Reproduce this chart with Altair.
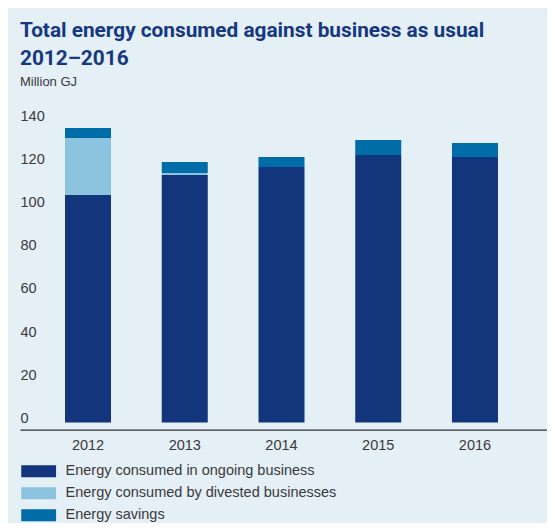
import altair as alt
import pandas as pd

years = ["2012", "2013", "2014", "2015", "2016"]
series = [
    "Energy consumed in ongoing business",
    "Energy consumed by divested businesses",
    "Energy savings",
]
ongoing = [105.3, 114.5, 118.2, 123.8, 122.9]
divested = [26.4, 1.0, 0.0, 0.0, 0.0]
savings = [4.6, 5.1, 4.7, 6.9, 6.4]
colors = ["#12357b", "#8cc3df", "#006ca8"]
y_ticks = [0, 20, 40, 60, 80, 100, 120, 140]

rows = []
for i, y in enumerate(years):
    for k, (name, vals) in enumerate(zip(series, [ongoing, divested, savings])):
        rows.append({"year": y, "series": name, "value": vals[i], "order": k})
df = pd.DataFrame(rows)

BG = "#e4eff6"
TXT = "#3a3a3a"
font = "Liberation Sans"

chart = (
    alt.Chart(df)
    .mark_bar()
    .encode(
        x=alt.X(
            "year:N",
            sort=years,
            scale=alt.Scale(paddingInner=0.5245, paddingOuter=0.486, align=0.4787),
            axis=alt.Axis(
                title=None,
                labelAngle=0,
                ticks=False,
                tickSize=0,
                domainColor="#333333",
                domainWidth=1.3,
                labelFont=font,
                labelFontSize=14.5,
                labelColor=TXT,
                labelBaseline="alphabetic",
                labelPadding=20,
            ),
        ),
        y=alt.Y(
            "value:Q",
            stack="zero",
            scale=alt.Scale(domain=[-3.33, 140], nice=False, zero=False),
            axis=alt.Axis(
                title=None,
                values=y_ticks,
                grid=False,
                domain=False,
                ticks=False,
                tickSize=0,
                labelAlign="left",
                labelBaseline="alphabetic",
                labelPadding=0,
                labelFont=font,
                labelFontSize=14.5,
                labelColor=TXT,
            ),
        ),
        color=alt.Color(
            "series:N",
            sort=series,
            scale=alt.Scale(domain=series, range=colors),
            legend=alt.Legend(
                title=None,
                orient="none",
                legendX=11.4,
                legendY=344,
                padding=0,
                symbolType="M-2.9,-1H2.9V1H-2.9Z",
                symbolSize=144,
                symbolStrokeWidth=0,
                symbolOpacity=1,
                labelFont=font,
                labelFontSize=14.5,
                labelColor=TXT,
                labelOffset=19.6,
                rowPadding=7,
                labelLimit=500,
            ),
        ),
        order=alt.Order("order:Q", sort="ascending"),
    )
    .properties(
        width=527,
        height=309.7,
        padding={"left": 12, "top": 112, "right": 0, "bottom": 93.3},
        autosize=alt.AutoSizeParams(type="none"),
        background=BG,
        title=alt.TitleParams(
            text=["Total energy consumed against business as usual", "2012\u20132016"],
            subtitle="Million GJ",
            anchor="start",
            frame="group",
            font="Roboto",
            fontSize=20.8,
            fontWeight="bold",
            color="#15387f",
            lineHeight=28,
            subtitleFont=font,
            subtitleFontSize=13,
            subtitleColor=TXT,
            subtitlePadding=6,
            offset=18,
        ),
    )
    .configure_view(stroke=None)
)

chart.save("out.html", embed_options={"renderer": "svg", "actions": False})
